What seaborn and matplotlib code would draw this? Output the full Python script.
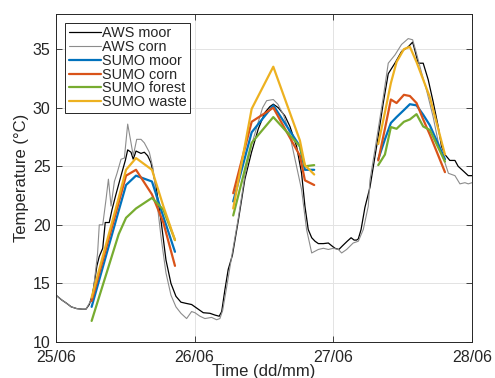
import numpy as np
import pandas as pd
import matplotlib
matplotlib.use('Agg')
import matplotlib.pyplot as plt
from matplotlib.lines import Line2D
import seaborn as sns

sns.set_theme(style='ticks')
plt.rcParams['font.family'] = ['Liberation Sans', 'DejaVu Sans']

# ---------------- data (time in days since 25/06 00:00) ----------------
aws_moor_t = [0.000, 0.040, 0.077, 0.110, 0.150, 0.190, 0.216, 0.240, 0.262, 0.276,
              0.295, 0.312, 0.337, 0.355, 0.384, 0.404, 0.430, 0.469, 0.500, 0.517,
              0.541, 0.557, 0.577, 0.613, 0.637, 0.661, 0.685, 0.721, 0.757, 0.793,
              0.829, 0.865, 0.901, 0.937, 0.978, 1.014, 1.062, 1.110, 1.146, 1.177,
              1.195, 1.218, 1.242, 1.272, 1.315, 1.362, 1.410, 1.459, 1.507, 1.543,
              1.567, 1.603, 1.651, 1.687, 1.735, 1.771, 1.795, 1.819, 1.844, 1.868,
              1.892, 1.928, 1.964, 1.990, 2.012, 2.040, 2.065, 2.100, 2.128, 2.150,
              2.168, 2.180, 2.200, 2.228, 2.264, 2.312, 2.360, 2.396, 2.444, 2.492,
              2.540, 2.572, 2.588, 2.612, 2.648, 2.684, 2.720, 2.756, 2.780, 2.805,
              2.840, 2.877, 2.900, 2.937, 2.973, 3.000]
aws_moor_v = [14.0, 13.6, 13.3, 13.0, 12.85, 12.8, 12.8, 13.2, 14.0, 15.0,
              16.5, 17.3, 18.0, 20.2, 20.2, 21.3, 22.5, 24.2, 25.5, 26.4,
              26.2, 25.6, 26.3, 26.1, 26.2, 25.9, 25.3, 23.3, 20.4, 17.0,
              15.0, 13.9, 13.4, 13.3, 13.2, 12.9, 12.5, 12.45, 12.3, 12.2,
              12.6, 14.45, 16.2, 17.4, 20.4, 23.9, 26.2, 28.2, 29.6, 30.1,
              30.3, 30.0, 29.3, 28.4, 26.7, 24.4, 21.6, 19.6, 18.9, 18.6,
              18.4, 18.4, 18.45, 18.2, 18.0, 17.9, 18.2, 18.6, 18.9, 18.7,
              18.7, 18.8, 19.6, 21.5, 23.2, 26.7, 30.4, 32.9, 33.8, 34.8,
              35.2, 35.6, 34.9, 33.8, 33.8, 32.4, 30.5, 28.4, 26.7, 26.0,
              25.5, 25.5, 25.0, 24.6, 24.2, 24.2]

aws_corn_t = [0.000, 0.040, 0.077, 0.110, 0.150, 0.190, 0.216, 0.240, 0.265, 0.280,
              0.300, 0.312, 0.337, 0.361, 0.378, 0.397, 0.421, 0.440, 0.452, 0.469,
              0.493, 0.517, 0.541, 0.557, 0.582, 0.613, 0.637, 0.673, 0.700, 0.721,
              0.757, 0.793, 0.829, 0.865, 0.901, 0.942, 0.978, 1.002, 1.038, 1.074,
              1.122, 1.158, 1.182, 1.202, 1.231, 1.267, 1.315, 1.362, 1.410, 1.459,
              1.490, 1.519, 1.567, 1.600, 1.640, 1.680, 1.720, 1.771, 1.807, 1.844,
              1.892, 1.928, 1.964, 2.000, 2.036, 2.060, 2.096, 2.143, 2.180, 2.216,
              2.252, 2.264, 2.312, 2.360, 2.396, 2.444, 2.492, 2.540, 2.572, 2.596,
              2.636, 2.672, 2.720, 2.768, 2.805, 2.830, 2.877, 2.913, 2.949, 2.973,
              3.000]
aws_corn_v = [14.0, 13.6, 13.3, 13.0, 12.85, 12.8, 12.8, 13.3, 13.9, 15.5,
              17.6, 20.0, 20.0, 22.2, 23.9, 21.6, 23.7, 24.4, 24.9, 25.6,
              25.7, 28.6, 27.0, 25.9, 27.3, 27.3, 27.0, 26.2, 24.8, 22.7,
              19.0, 15.9, 14.0, 13.0, 12.45, 12.0, 12.6, 12.5, 12.2, 12.0,
              12.1, 11.9, 12.0, 12.7, 14.7, 17.3, 20.6, 24.2, 26.8, 28.8,
              30.0, 30.6, 30.7, 30.3, 29.4, 28.0, 25.8, 23.0, 19.6, 17.6,
              17.9, 18.0, 17.9, 18.0, 17.9, 17.6, 17.9, 18.45, 18.6, 19.6,
              21.6, 23.8, 27.3, 30.9, 33.8, 34.5, 35.4, 35.9, 35.8, 34.8,
              33.0, 31.5, 29.2, 26.4, 25.3, 24.4, 24.2, 23.5, 23.6, 23.5,
              23.6]

# SUMO simulations, one segment per day
day1_t = [0.257, 0.452, 0.505, 0.577, 0.692, 0.774, 0.858]
day2_t = [1.278, 1.411, 1.567, 1.759, 1.795, 1.862]
day3_t = [2.324, 2.372, 2.415, 2.456, 2.509, 2.552, 2.600, 2.648, 2.696, 2.805]

sumo_moor = [[13.0, 21.2, 23.4, 24.2, 23.7, 20.7, 17.7],
             [22.0, 27.9, 30.2, 26.7, 24.7, 24.7],
             [25.6, 27.3, 28.7, 29.2, 29.8, 30.3, 30.2, 29.4, 28.5, 25.6]]
sumo_corn = [[13.5, 21.9, 24.2, 24.7, 22.6, 20.2, 16.5],
             [22.7, 28.8, 30.0, 25.9, 23.8, 23.4],
             [25.5, 28.2, 30.7, 30.4, 31.1, 31.0, 30.4, 29.0, 27.7, 24.5]]
sumo_forest = [[11.8, 19.2, 20.6, 21.4, 22.3, 21.3, 18.7],
               [20.8, 27.0, 29.2, 26.7, 25.0, 25.1],
               [25.1, 26.0, 28.35, 28.2, 28.8, 29.0, 29.45, 28.4, 28.1, 25.4]]
sumo_waste = [[13.8, 22.3, 24.7, 25.7, 24.7, 21.6, 18.7],
              [21.4, 29.9, 33.5, 27.2, 25.1, 24.3],
              [26.9, 29.6, 32.1, 33.9, 35.0, 35.2, 33.9, 32.4, 30.9, 26.0]]

sumo_names = ['SUMO moor', 'SUMO corn', 'SUMO forest', 'SUMO waste']
sumo_colors = ['#0072BD', '#D95319', '#77AC30', '#EDB120']
xtick_labels = ['25/06', '26/06', '27/06', '28/06']

# ---------------- build tables ----------------
aws_moor = pd.DataFrame({'t': aws_moor_t, 'temp': aws_moor_v})
aws_corn = pd.DataFrame({'t': aws_corn_t, 'temp': aws_corn_v})

rows = []
day_times = [day1_t, day2_t, day3_t]
for name, vals in zip(sumo_names, [sumo_moor, sumo_corn, sumo_forest, sumo_waste]):
    for d, (tt, vv) in enumerate(zip(day_times, vals)):
        for t, v in zip(tt, vv):
            rows.append({'t': t, 'temp': v, 'series': name, 'seg': d})
sumo = pd.DataFrame(rows)

# ---------------- plot ----------------
fig = plt.figure(figsize=(4.95, 3.78), dpi=100)
ax = fig.add_axes([56/495, 36/378, 416/495, 328/378])

ax.grid(True, color='#e3e3e3', linewidth=0.7)
ax.set_axisbelow(True)

sns.lineplot(data=aws_moor, x='t', y='temp', color='black', linewidth=0.9,
             estimator=None, sort=False, ax=ax, legend=False)
sns.lineplot(data=aws_corn, x='t', y='temp', color='#8c8c8c', linewidth=0.8,
             estimator=None, sort=False, ax=ax, legend=False)
sns.lineplot(data=sumo, x='t', y='temp', hue='series', units='seg',
             estimator=None, sort=False, hue_order=sumo_names,
             palette=dict(zip(sumo_names, sumo_colors)), linewidth=1.6,
             ax=ax, legend=False)

ax.set_xlim(0, 3)
ax.set_ylim(10, 38)
ax.set_xticks([0, 1, 2, 3])
ax.set_xticklabels(xtick_labels)
ax.set_yticks([10, 15, 20, 25, 30, 35])
ax.tick_params(direction='in', top=True, right=True, length=4, width=0.6,
               labelsize=11.5, colors='#262626')
ax.tick_params(axis='x', pad=6)
ax.tick_params(axis='y', pad=4)
for s in ax.spines.values():
    s.set_linewidth(0.7)
    s.set_color('#262626')

ax.set_xlabel('Time (dd/mm)', fontsize=12, labelpad=-1, color='#262626')
ax.set_ylabel('Temperature (°C)', fontsize=12, labelpad=3, color='#262626')

handles = [Line2D([], [], color='black', lw=0.9),
           Line2D([], [], color='#8c8c8c', lw=0.8)] + \
          [Line2D([], [], color=c, lw=1.6) for c in sumo_colors]
labels = ['AWS moor', 'AWS corn'] + sumo_names
leg = ax.legend(handles, labels, loc='upper left', bbox_to_anchor=(0.022, 0.973),
                borderaxespad=0, fontsize=10.4, handlelength=2.2, handletextpad=0.1,
                labelspacing=-0.02, borderpad=0.25, fancybox=False, framealpha=1,
                edgecolor='#262626')
leg.get_frame().set_linewidth(0.7)

fig.savefig('out.png', dpi=100)
